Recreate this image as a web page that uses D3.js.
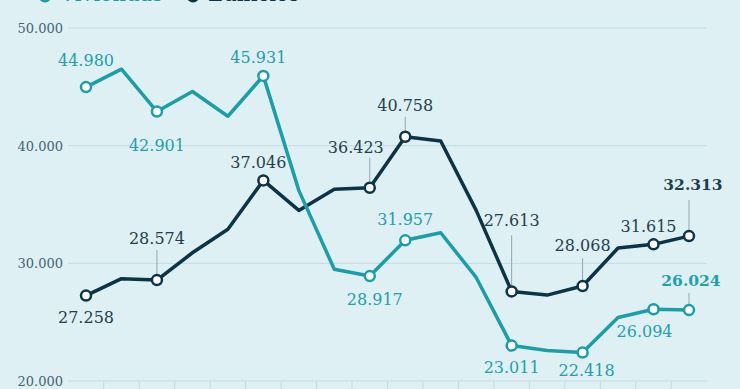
<!DOCTYPE html>
<html>
  <head>
    <meta charset="utf-8">
    <title>Viviendas y edificios</title>
    <script src="https://cdn.jsdelivr.net/npm/d3@7"></script>
    <style>
      html, body { margin: 0; padding: 0; background: #dff0f4; }
      svg { display: block; }
      text { font-family: "DejaVu Serif", serif; }
    </style>
  </head>
  <body>
    <svg id="chart"></svg>
    <script>
      // periodos (las etiquetas del eje x quedan fuera de la imagen)
      var categories = ["2006", "2007", "2008", "2009", "2010", "2011", "2012", "2013", "2014",
                        "2015", "2016", "2017", "2018", "2019", "2020", "2021", "2022", "2023"];
      var viviendas = [44980, 46500, 42901, 44600, 42500, 45931, 36200, 29500, 28917,
                       31957, 32600, 28800, 23011, 22600, 22418, 25400, 26094, 26024];
      var edificios = [27258, 28700, 28574, 30900, 32900, 37046, 34500, 36300, 36423,
                       40758, 40400, 34500, 27613, 27300, 28068, 31300, 31615, 32313];
      var yTicks = [20000, 30000, 40000, 50000];

      // puntos etiquetados: indice, posicion de la etiqueta, linea guia
      var vivLabels = [
        { i: 0, dx: 0, dy: -21 }, { i: 2, dx: 0, dy: 39 }, { i: 5, dx: -5, dy: -13 },
        { i: 8, dx: 5, dy: 29 }, { i: 9, dx: 0, dy: -15 }, { i: 12, dx: 0, dy: 27 },
        { i: 14, dx: 4, dy: 23 }, { i: 16, dx: -9, dy: 28 },
        { i: 17, dx: 2, dy: -24, lead: [-17, -6], bold: true }
      ];
      var ediLabels = [
        { i: 0, dx: 0, dy: 27 }, { i: 2, dx: 0, dy: -36, lead: [-30, -6] },
        { i: 5, dx: -5, dy: -12 }, { i: 8, dx: -14, dy: -35, lead: [-30, -6] },
        { i: 9, dx: 0, dy: -26, lead: [-20, -6] }, { i: 12, dx: 0, dy: -65, lead: [-56, -6] },
        { i: 14, dx: 0, dy: -35, lead: [-28, -6] }, { i: 16, dx: -5, dy: -12 },
        { i: 17, dx: 4, dy: -46, lead: [-36, -6], bold: true }
      ];

      var width = 740, height = 389;
      var teal = "#1a9fa9", navy = "#0c3447";

      var svg = d3.select("#chart").attr("width", width).attr("height", height);

      var x = d3.scalePoint().domain(d3.range(categories.length)).range([86, 689]);
      var y = d3.scaleLinear().domain([20000, 50000]).range([381, 28]);
      var fmt = d3.format(",d");
      var lbl = function(v) { return fmt(v).replace(/,/g, "."); };

      // leyenda (cortada por arriba)
      var legend = [{ name: "Viviendas", c: teal, x: 45 }, { name: "Edificios", c: navy, x: 193 }];
      legend.forEach(function(d) {
        svg.append("circle").attr("cx", d.x).attr("cy", -4).attr("r", 6.5).attr("fill", d.c);
        svg.append("text").attr("x", d.x + 15).attr("y", 1).attr("fill", d.c)
           .attr("font-size", 21).text(d.name);
      });

      // cuadricula
      svg.append("g").selectAll("line").data(yTicks).enter().append("line")
         .attr("x1", 68).attr("x2", 707)
         .attr("y1", function(d) { return y(d); }).attr("y2", function(d) { return y(d); })
         .attr("stroke", "#c3dbe2").attr("stroke-width", 1);

      svg.append("g").selectAll("text").data(yTicks).enter().append("text")
         .attr("x", 63).attr("y", function(d) { return y(d) + 5; })
         .attr("text-anchor", "end").attr("font-size", 13).attr("fill", "#3f6473")
         .text(function(d) { return lbl(d).replace(/^(\d\d)\.(\d+)$/, "$1.$2"); });

      // marcas del eje x entre periodos
      var step = x.step();
      svg.append("g").selectAll("line").data(d3.range(categories.length - 1)).enter().append("line")
         .attr("x1", function(d) { return x(d) + step / 2; })
         .attr("x2", function(d) { return x(d) + step / 2; })
         .attr("y1", y(20000)).attr("y2", height)
         .attr("stroke", "#c3dbe2").attr("stroke-width", 1);

      var line = d3.line()
                   .x(function(d, i) { return x(i); })
                   .y(function(d) { return y(d); });

      function drawSeries(values, labels, color, textColor) {
        var g = svg.append("g");
        // lineas guia
        labels.filter(function(d) { return d.lead; }).forEach(function(d) {
          g.append("line")
           .attr("x1", x(d.i)).attr("x2", x(d.i))
           .attr("y1", y(values[d.i]) + d.lead[0]).attr("y2", y(values[d.i]) + d.lead[1])
           .attr("stroke", "#8fa6ae").attr("stroke-width", 1);
        });
        g.append("path").datum(values)
         .attr("d", line).attr("fill", "none")
         .attr("stroke", color).attr("stroke-width", 3.5)
         .attr("stroke-linejoin", "round");
        g.selectAll("circle").data(labels).enter().append("circle")
         .attr("cx", function(d) { return x(d.i); })
         .attr("cy", function(d) { return y(values[d.i]); })
         .attr("r", 5).attr("fill", "#fff")
         .attr("stroke", color).attr("stroke-width", 2.5);
        g.selectAll("text").data(labels).enter().append("text")
         .attr("x", function(d) { return x(d.i) + d.dx; })
         .attr("y", function(d) { return y(values[d.i]) + d.dy; })
         .attr("text-anchor", "middle")
         .attr("font-size", function(d) { return d.bold ? 15.5 : 16; })
         .attr("font-weight", function(d) { return d.bold ? "bold" : "normal"; })
         .attr("fill", textColor)
         .text(function(d) { return lbl(values[d.i]); });
      }

      drawSeries(edificios, ediLabels, navy, "#1f3f4d");
      drawSeries(viviendas, vivLabels, teal, "#22a0aa");
    </script>
  </body>
</html>
